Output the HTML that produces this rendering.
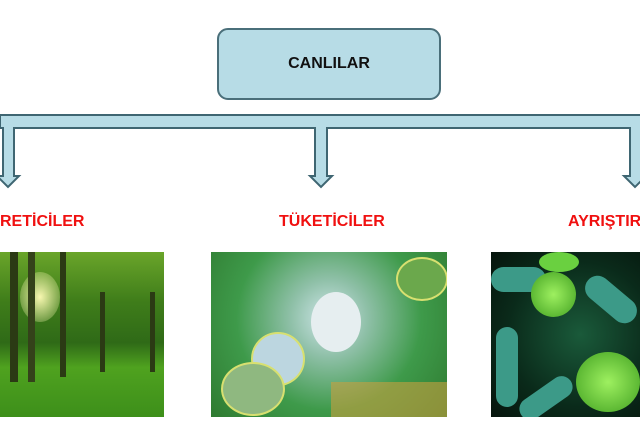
<!DOCTYPE html>
<html><head><meta charset="utf-8"><style>
body{margin:0;width:640px;height:432px;background:#fff;overflow:hidden;font-family:"Liberation Sans",sans-serif}
#w{position:relative;width:640px;height:432px;overflow:hidden}
.a{position:absolute}
.lbl{position:absolute;top:213px;color:#f01010;font-weight:bold;font-size:16px;white-space:nowrap}
</style></head><body><div id="w">
<div class="a" style="left:217px;top:28px;width:220px;height:68px;background:#b7dce6;border:2px solid #4a6f7a;border-radius:11px;text-align:center;line-height:68px;font-weight:bold;font-size:16px;color:#111">CANLILAR</div>
<svg class="a" style="left:0;top:0" width="640" height="200">
<g fill="#b7dce6" stroke="#3f6672" stroke-width="2">
<path d="M0 115 H640 V128 H0 Z"/>
<path d="M3 128 V176 H-3 L8 187 L19 176 H14 V128"/>
<path d="M315 128 V176 H310 L321 187 L332 176 H327 V128"/>
<path d="M630 128 V176 H624 L635 187 L646 176 H641 V128"/>
</g>
<rect x="4" y="116" width="9" height="13" fill="#b7dce6"/>
<rect x="316" y="116" width="10" height="13" fill="#b7dce6"/>
<rect x="631" y="116" width="9" height="13" fill="#b7dce6"/>
</svg>
<div class="lbl" style="left:0">RETİCİLER</div>
<div class="lbl" style="left:279px">TÜKETİCİLER</div>
<div class="lbl" style="left:568px;width:72px;overflow:hidden">AYRIŞTIRICILAR</div>
<div class="a" style="left:0;top:252px;width:164px;height:165px;background:linear-gradient(180deg,#6aa52a 0%,#3f7d1a 30%,#2f6a17 55%,#4fa21f 70%,#3d8f1a 100%);overflow:hidden">
<div class="a" style="left:20px;top:20px;width:40px;height:50px;border-radius:50%;background:radial-gradient(#f7f7b0,rgba(200,230,120,0))"></div>
<div class="a" style="left:10px;top:0;width:8px;height:130px;background:#2b3a14"></div>
<div class="a" style="left:28px;top:0;width:7px;height:130px;background:#34421a"></div>
<div class="a" style="left:60px;top:0;width:6px;height:125px;background:#2b3a14"></div>
<div class="a" style="left:100px;top:40px;width:5px;height:80px;background:#2b3a14"></div>
<div class="a" style="left:150px;top:40px;width:5px;height:80px;background:#2b3a14"></div>
</div>
<div class="a" style="left:211px;top:252px;width:236px;height:165px;background:radial-gradient(circle at 50% 40%,#cfe6ea 0%,#8fc0a8 25%,#3e9a4a 60%,#2f7a30 100%);overflow:hidden">
<div class="a" style="left:100px;top:40px;width:50px;height:60px;border-radius:50%;background:#e6eef0"></div>
<div class="a" style="left:40px;top:80px;width:50px;height:50px;border-radius:50%;background:#bcd6e0;border:2px solid #d8e070"></div>
<div class="a" style="left:10px;top:110px;width:60px;height:50px;border-radius:50%;background:#8fb880;border:2px solid #d8e070"></div>
<div class="a" style="left:185px;top:5px;width:48px;height:40px;border-radius:50%;background:#6ba84c;border:2px solid #d8e070"></div>
<div class="a" style="left:120px;top:130px;width:116px;height:35px;background:#c8a040;opacity:.6"></div>
</div>
<div class="a" style="left:491px;top:252px;width:149px;height:165px;background:radial-gradient(circle at 60% 50%,#1a5a3a 0%,#0a2a1a 60%,#06140c 100%);overflow:hidden">
<div class="a" style="left:0;top:15px;width:55px;height:25px;border-radius:14px;background:#3c9a88"></div>
<div class="a" style="left:5px;top:75px;width:22px;height:80px;border-radius:12px;background:#3c9a88"></div>
<div class="a" style="left:40px;top:20px;width:45px;height:45px;border-radius:50%;background:radial-gradient(#9ef060,#40a020)"></div>
<div class="a" style="left:48px;top:0;width:40px;height:20px;border-radius:50%;background:#6ad040"></div>
<div class="a" style="left:85px;top:100px;width:64px;height:60px;border-radius:50%;background:radial-gradient(#9ef060,#40a020)"></div>
<div class="a" style="left:90px;top:35px;width:60px;height:25px;border-radius:14px;background:#3c9a88;transform:rotate(40deg)"></div>
<div class="a" style="left:25px;top:135px;width:60px;height:22px;border-radius:12px;background:#3c9a88;transform:rotate(-35deg)"></div>
</div>
</div></body></html>
